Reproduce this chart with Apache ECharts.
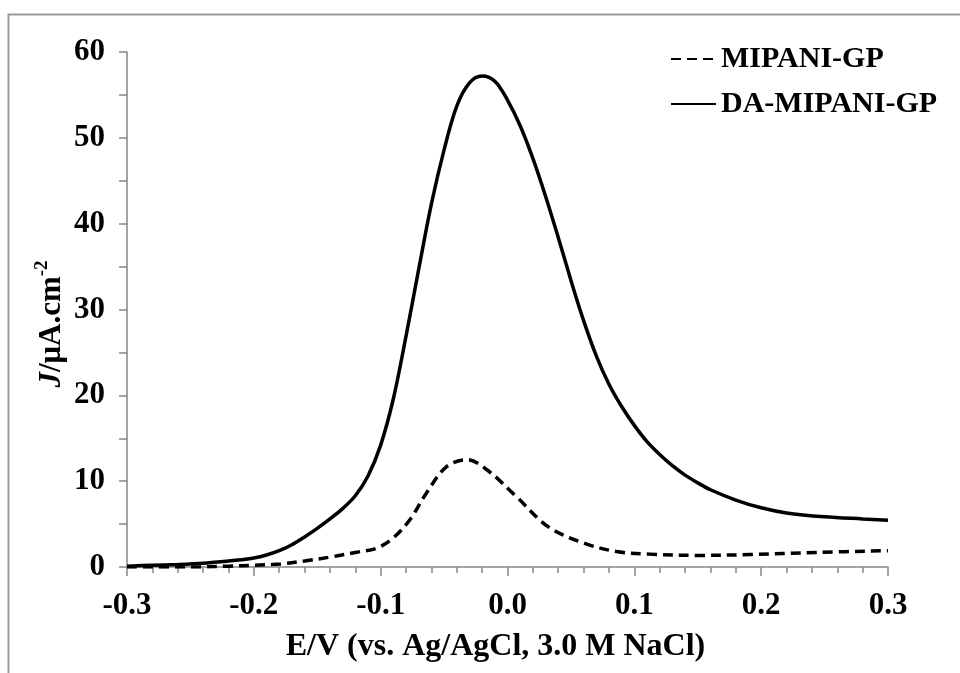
<!DOCTYPE html>
<html>
<head>
<meta charset="utf-8">
<script src="https://cdn.jsdelivr.net/npm/echarts@6/dist/echarts.min.js"></script>
<style>html,body{margin:0;padding:0;background:#fff;}#c{width:960px;height:673px;}</style>
</head>
<body>
<div id="c"></div>
<script>
// Data
const xTickLabels = ['-0.3', '-0.2', '-0.1', '0.0', '0.1', '0.2', '0.3'];
const yTickLabels = ['0', '10', '20', '30', '40', '50', '60'];

const daE = [-0.30, -0.28, -0.26, -0.24, -0.22, -0.21, -0.20, -0.19, -0.18, -0.17, -0.16, -0.15, -0.14, -0.13, -0.12, -0.11, -0.10, -0.09, -0.08, -0.07, -0.06, -0.05, -0.04, -0.03, -0.02, -0.01, 0.00, 0.01, 0.02, 0.03, 0.04, 0.05, 0.06, 0.07, 0.08, 0.09, 0.10, 0.11, 0.12, 0.13, 0.14, 0.15, 0.16, 0.18, 0.20, 0.22, 0.25, 0.28, 0.30];
const daJ = [0.1, 0.2, 0.3, 0.45, 0.7, 0.85, 1.05, 1.4, 1.9, 2.6, 3.5, 4.5, 5.6, 6.8, 8.3, 10.6, 14.2, 19.6, 26.9, 34.7, 42.3, 48.6, 53.7, 56.4, 57.2, 56.6, 54.4, 51.4, 47.6, 43.2, 38.4, 33.4, 28.7, 24.6, 21.3, 18.7, 16.5, 14.6, 13.1, 11.8, 10.7, 9.8, 9.0, 7.8, 6.9, 6.3, 5.85, 5.6, 5.45];

const mipE = [-0.30, -0.25, -0.22, -0.20, -0.179, -0.16, -0.138, -0.12, -0.103, -0.090, -0.077, -0.064, -0.048, -0.032, -0.016, 0.007, 0.032, 0.060, 0.086, 0.112, 0.152, 0.191, 0.244, 0.300];
const mipJ = [0.0, 0.0, 0.1, 0.2, 0.35, 0.7, 1.2, 1.7, 2.2, 3.4, 5.5, 8.6, 11.7, 12.5, 11.3, 8.2, 4.7, 2.8, 1.8, 1.5, 1.35, 1.45, 1.7, 1.9];

const seriesNames = ['MIPANI-GP', 'DA-MIPANI-GP'];

function pairs(xs, ys) { return xs.map((x, i) => [x, ys[i]]); }

const FONT = 'Liberation Serif';
const axisGray = '#868686';

const chart = echarts.init(document.getElementById('c'), null, {renderer: 'canvas'});
chart.setOption({
  animation: false,
  backgroundColor: '#fff',
  grid: {left: 127, right: 72, top: 52, bottom: 106, containLabel: false},
  legend: {
    orient: 'vertical',
    left: 670,
    top: 44,
    padding: 0,
    itemWidth: 45,
    itemHeight: 14,
    itemGap: 15,
    icon: 'inherit',
    itemStyle: {opacity: 0},
    data: seriesNames,
    textStyle: {fontFamily: FONT, fontWeight: 'bold', fontSize: 30, color: '#000'}
  },
  xAxis: {
    type: 'value',
    min: -0.3,
    max: 0.3,
    interval: 0.1,
    name: 'E/V (vs. Ag/AgCl, 3.0 M NaCl)',
    nameLocation: 'middle',
    nameGap: 64,
    nameTextStyle: {fontFamily: FONT, fontWeight: 'bold', fontSize: 32, color: '#000', padding: [0, 24, 0, 0]},
    axisLine: {show: true, onZero: false, lineStyle: {color: axisGray, width: 1.5}},
    axisTick: {show: true, inside: false, length: 9, lineStyle: {color: axisGray, width: 1.5}},
    minorTick: {show: true, splitNumber: 5, length: 6, lineStyle: {color: axisGray, width: 1.5}},
    splitLine: {show: false},
    minorSplitLine: {show: false},
    axisLabel: {
      margin: 23,
      fontFamily: FONT, fontWeight: 'bold', fontSize: 31, color: '#000',
      formatter: function (v) { return xTickLabels[Math.round((v + 0.3) / 0.1)]; }
    }
  },
  yAxis: {
    type: 'value',
    min: 0,
    max: 60,
    interval: 10,
    axisLine: {show: true, onZero: false, lineStyle: {color: axisGray, width: 1.5}},
    axisTick: {show: true, inside: false, length: 8, lineStyle: {color: axisGray, width: 1.5}},
    minorTick: {show: true, splitNumber: 2, length: 8, lineStyle: {color: axisGray, width: 1.5}},
    splitLine: {show: false},
    minorSplitLine: {show: false},
    axisLabel: {
      margin: 22,
      fontFamily: FONT, fontWeight: 'bold', fontSize: 31, color: '#000',
      formatter: function (v) { return yTickLabels[Math.round(v / 10)]; }
    }
  },
  graphic: [
    {
      type: 'rect', silent: true, z: -10,
      shape: {x: 8.5, y: 14.5, width: 1200, height: 1200},
      style: {fill: 'none', stroke: '#9a9a9a', lineWidth: 2}
    },
    {
      type: 'text', x: 50, y: 324, rotation: Math.PI / 2, silent: true,
      style: {
        text: '{i|J}{n|/μA.cm}{s|-2}',
        align: 'center', verticalAlign: 'middle',
        rich: {
          i: {fontFamily: FONT, fontWeight: 'bold', fontStyle: 'italic', fontSize: 31, fill: '#000', lineHeight: 34, verticalAlign: 'bottom'},
          n: {fontFamily: FONT, fontWeight: 'bold', fontSize: 31, fill: '#000', lineHeight: 34, verticalAlign: 'bottom'},
          s: {fontFamily: FONT, fontWeight: 'bold', fontSize: 19, fill: '#000', lineHeight: 34, verticalAlign: 'top'}
        }
      }
    }
  ],
  series: [
    {
      name: seriesNames[0], type: 'line', data: pairs(mipE, mipJ),
      smooth: 0.35, symbol: 'none', showSymbol: false,
      lineStyle: {color: '#000', width: 3.5, type: [10, 6], cap: 'butt'},
      itemStyle: {color: '#000'}
    },
    {
      name: seriesNames[1], type: 'line', data: pairs(daE, daJ),
      smooth: 0.35, symbol: 'none', showSymbol: false,
      lineStyle: {color: '#000', width: 3.5, type: 'solid'},
      itemStyle: {color: '#000'}
    }
  ]
});
</script>
</body>
</html>
